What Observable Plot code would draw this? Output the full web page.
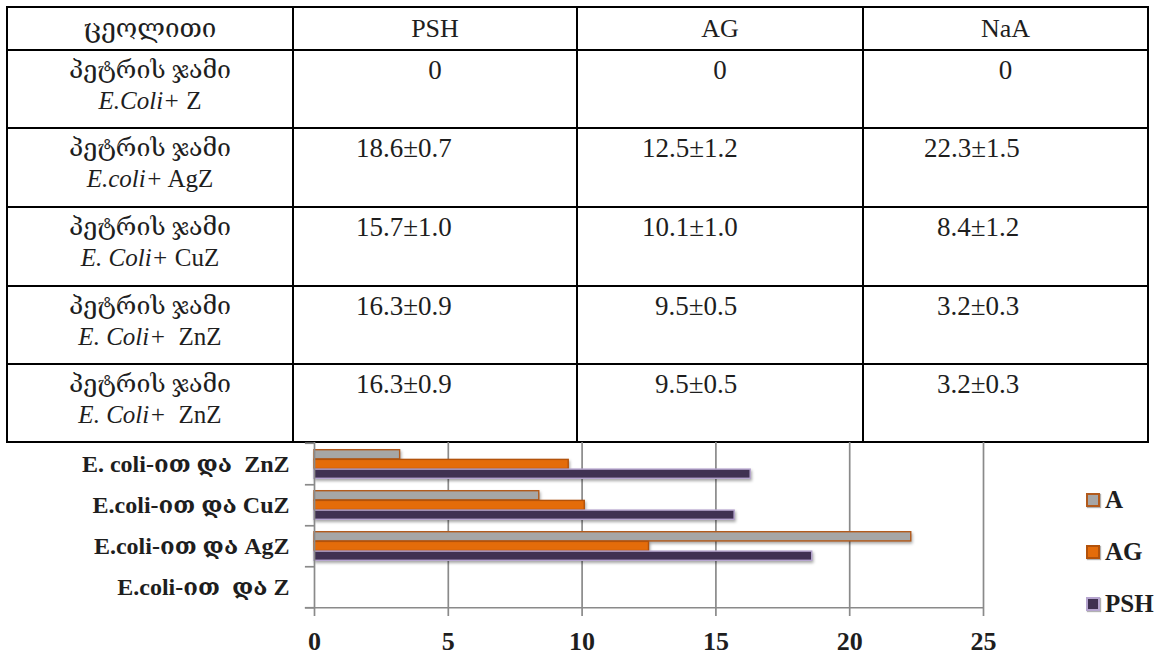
<!DOCTYPE html>
<html><head><meta charset="utf-8">
<script src="https://cdn.jsdelivr.net/npm/d3@7"></script>
<script src="https://cdn.jsdelivr.net/npm/@observablehq/plot@0.6"></script>
<style>
body{margin:0;background:#fff;width:1161px;height:656px;overflow:hidden;position:relative;font-family:"Liberation Serif","DejaVu Serif",serif;}
#tbl{position:absolute;left:6px;top:6px;border-collapse:collapse;table-layout:fixed;}
#tbl td{border:2px solid #000;padding:0;font-size:26px;color:#1e1e1e;vertical-align:top;line-height:31px;white-space:pre;}
#tbl tr.head td{vertical-align:middle;text-align:center;line-height:26px;}
#tbl td.c1{text-align:center;padding-top:3px;font-size:25px;}
#tbl td.num{padding-top:4px;font-size:27px;}
#tbl td.zero{text-align:center;}
#chart{position:absolute;left:0;top:442px;}
#chart svg text{white-space:pre;}
#chart g[aria-label="bar"]{filter:drop-shadow(1px 2px 1.5px rgba(0,0,0,0.35));}
#legend{position:absolute;left:1086px;top:486px;}
.li{position:absolute;left:0;height:28px;display:flex;align-items:center;font-weight:bold;font-size:25px;color:#1e1e1e;}
.sw{width:10px;height:10px;border:2px solid;margin-right:5px;box-shadow:1px 1px 1px rgba(0,0,0,0.3);}
</style></head>
<body>
<table id="tbl"><colgroup><col style="width:286px"><col style="width:284px"><col style="width:286px"><col style="width:285px"></colgroup><tbody></tbody></table>
<div id="chart"></div>
<div id="legend"></div>
<script>
// ---- table data ----
const tableHeader = ["ცეოლითი", "PSH", "AG", "NaA"];
const rowLine1 = ["პეტრის ჯამი", "პეტრის ჯამი", "პეტრის ჯამი", "პეტრის ჯამი", "პეტრის ჯამი"];
const rowStrain = ["E.Coli+", "E.coli+", "E. Coli+", "E. Coli+", "E. Coli+"];
const rowZeolite = [" Z", " AgZ", " CuZ", "  ZnZ", "  ZnZ"];
const colPSH = ["0", "18.6±0.7", "15.7±1.0", "16.3±0.9", "16.3±0.9"];
const colAG = ["0", "12.5±1.2", "10.1±1.0", "9.5±0.5", "9.5±0.5"];
const colNaA = ["0", "22.3±1.5", "8.4±1.2", "3.2±0.3", "3.2±0.3"];

// ---- chart data ----
const categories = ["E. coli-ით და  ZnZ", "E.coli-ით და CuZ", "E.coli-ით და AgZ", "E.coli-ით  და Z"];
const seriesNames = ["A", "AG", "PSH"];
const valuesA = [3.2, 8.4, 22.3, 0];
const valuesAG = [9.5, 10.1, 12.5, 0];
const valuesPSH = [16.3, 15.7, 18.6, 0];
const xTicks = [0, 5, 10, 15, 20, 25];

const seriesFill = {A: "#a6a6a6", AG: "#e46c0a", PSH: "#403152"};
const seriesStroke = {A: "#b25a1c", AG: "#b3520a", PSH: "#b6a5cf"};

// ---- build table ----
const rowHeights = [43, 78, 79, 79, 78, 78];
const padFor = [62, 64, 60];
const tbody = document.querySelector("#tbl tbody");
const htr = document.createElement("tr");
htr.className = "head"; htr.style.height = rowHeights[0] + "px";
tableHeader.forEach(h => { const td = document.createElement("td"); td.textContent = h; htr.appendChild(td); });
tbody.appendChild(htr);
rowLine1.forEach((l1, i) => {
  const tr = document.createElement("tr");
  tr.style.height = rowHeights[i + 1] + "px";
  const td = document.createElement("td"); td.className = "c1";
  td.appendChild(document.createTextNode(l1));
  td.appendChild(document.createElement("br"));
  const em = document.createElement("i"); em.textContent = rowStrain[i];
  td.appendChild(em);
  td.appendChild(document.createTextNode(rowZeolite[i]));
  tr.appendChild(td);
  [colPSH, colAG, colNaA].forEach((col, j) => {
    const c = document.createElement("td");
    const v = col[i];
    c.textContent = v;
    if (v === "0") c.className = "num zero";
    else {
      c.className = "num";
      const intLen = v.split(".")[0].length;
      c.style.paddingLeft = (padFor[j] + (intLen === 1 ? 13 : 0)) + "px";
    }
    tr.appendChild(c);
  });
  tbody.appendChild(tr);
});

// ---- chart ----
const rows = categories.map((c, i) => ({cat: c, A: valuesA[i], AG: valuesAG[i], PSH: valuesPSH[i]}));
const plotH = 214, mTop = 0, mBottom = 48;
const bw = (plotH - mTop - mBottom) / categories.length;
const barH = 9.7;
const inset = (bw - barH) / 2;
const grid = "#8a8a8a";

const barMarks = seriesNames.map((s, k) => Plot.barX(rows, {
  filter: d => d[s] > 0,
  x: s, y: "cat",
  fill: seriesFill[s], stroke: seriesStroke[s], strokeWidth: 1.4,
  insetTop: inset, insetBottom: inset, dy: (k - 1) * barH + 0.5
}));

const chart = Plot.plot({
  width: 1161, height: plotH,
  marginTop: mTop, marginBottom: mBottom, marginLeft: 314, marginRight: 178,
  x: {domain: [0, 25], ticks: xTicks, label: null},
  y: {domain: categories, padding: 0, label: null},
  style: {fontFamily: '"Liberation Serif","DejaVu Serif",serif', color: "#1e1e1e", background: "transparent", overflow: "visible"},
  marks: [
    Plot.ruleX(xTicks.slice(1), {stroke: grid, strokeWidth: 1.7}),
    ...barMarks,
    Plot.ruleX([0], {stroke: grid, strokeWidth: 1.7}),
    Plot.ruleY(categories, {x1: -0.34, x2: 0, dy: bw / 2, stroke: grid, strokeWidth: 1.7}),
    Plot.ruleY([categories[0]], {x1: -0.34, x2: 0, dy: -bw / 2, stroke: grid, strokeWidth: 1.7}),
    Plot.ruleY([categories[categories.length - 1]], {x1: -0.34, x2: 25, dy: bw / 2, stroke: grid, strokeWidth: 1.7}),
    Plot.axisX({ticks: xTicks, tickSize: 8, tickPadding: 15, fontSize: 26, fontWeight: "bold", stroke: grid, strokeWidth: 1.7}),
    Plot.axisY({tickSize: 0, tickPadding: 25, fontSize: 24, fontWeight: "bold"})
  ]
});
document.getElementById("chart").appendChild(chart);

// ---- legend ----
const legend = document.getElementById("legend");
seriesNames.forEach((s, i) => {
  const it = document.createElement("div");
  it.className = "li";
  it.style.top = (i * 52) + "px";
  const sw = document.createElement("span");
  sw.className = "sw"; sw.style.background = seriesFill[s]; sw.style.borderColor = seriesStroke[s];
  it.appendChild(sw);
  it.appendChild(document.createTextNode(s));
  legend.appendChild(it);
});
</script>
</body></html>
